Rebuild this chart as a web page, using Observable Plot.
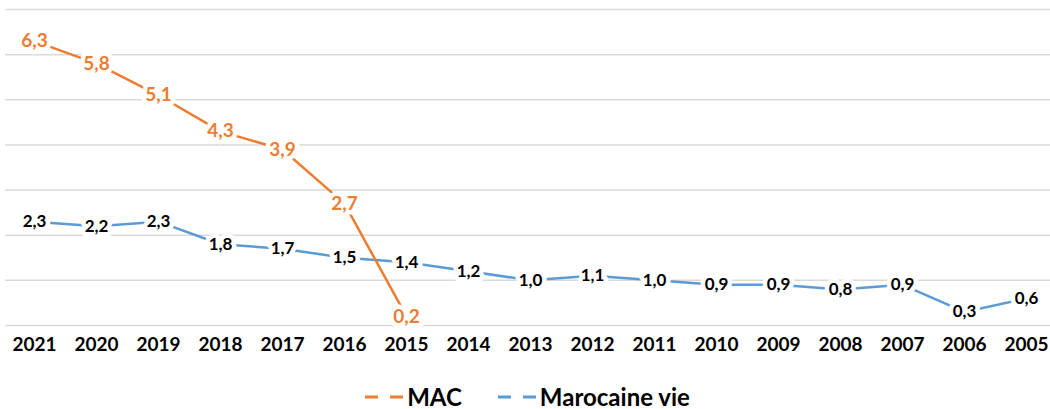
<!DOCTYPE html>
<html><head><meta charset="utf-8">
<script src="https://cdn.jsdelivr.net/npm/d3@7"></script>
<script src="https://cdn.jsdelivr.net/npm/@observablehq/plot@0.6"></script>
<style>
body{margin:0;background:#fff;font-family:"Lato","DejaVu Sans",sans-serif;}
#legend{height:39px;display:flex;justify-content:center;align-items:center;gap:36px;font-weight:bold;font-size:24px;color:#000;padding-left:5px;padding-top:14px;box-sizing:border-box;}
#legend span{display:flex;align-items:center;gap:3px;}
</style></head>
<body><div id="chart"></div><div id="legend"></div>
<script>
const years = ["2021","2020","2019","2018","2017","2016","2015","2014","2013","2012","2011","2010","2009","2008","2007","2006","2005"];
const macValues = [6.3,5.8,5.1,4.3,3.9,2.7,0.2];
const mvValues = [2.3,2.2,2.3,1.8,1.7,1.5,1.4,1.2,1.0,1.1,1.0,0.9,0.9,0.8,0.9,0.3,0.6];
const yTicks = [0,1,2,3,4,5,6,7];
const seriesNames = ["MAC","Marocaine vie"];
const colors = ["#ED7D31","#5B9BD5"];

const mac = macValues.map((v,i)=>({year:years[i], v}));
const mv = mvValues.map((v,i)=>({year:years[i], v}));
const fmt = v => v.toFixed(1).replace(".", ",");

const chart = Plot.plot({
  width:1050, height:370,
  marginTop:9, marginBottom:45, marginLeft:5, marginRight:0,
  x:{type:"point", domain:years, range:[34,1026], padding:0, label:null},
  y:{domain:[0,7], label:null, axis:null},
  style:{fontFamily:"Lato, 'DejaVu Sans', sans-serif"},
  marks:[
    Plot.ruleY(yTicks, {stroke:"#d9d9d9", strokeWidth:1.5}),
    Plot.axisX({tickSize:0, tickPadding:12, fontSize:19, fontWeight:"bold", fill:"#000", label:null}),
    Plot.line(mv, {x:"year", y:"v", stroke:colors[1], strokeWidth:2.5}),
    Plot.line(mac, {x:"year", y:"v", stroke:colors[0], strokeWidth:2.5}),
    Plot.text(mv, {x:"year", y:"v", text:d=>fmt(d.v), fill:"#000", stroke:"white", strokeWidth:9, fontSize:17, fontWeight:"bold"}),
    Plot.text(mac, {x:"year", y:"v", text:d=>fmt(d.v), fill:colors[0], stroke:"white", strokeWidth:9, fontSize:19, fontWeight:"bold"})
  ]
});
document.getElementById("chart").appendChild(chart);

const leg = document.getElementById("legend");
seriesNames.forEach((n,i)=>{
  const s = document.createElement("span");
  s.innerHTML = `<svg width="39" height="10"><line x1="0" y1="5" x2="39" y2="5" stroke="${colors[i]}" stroke-width="3" stroke-dasharray="13,12"/></svg>${n}`;
  leg.appendChild(s);
});
</script></body></html>
